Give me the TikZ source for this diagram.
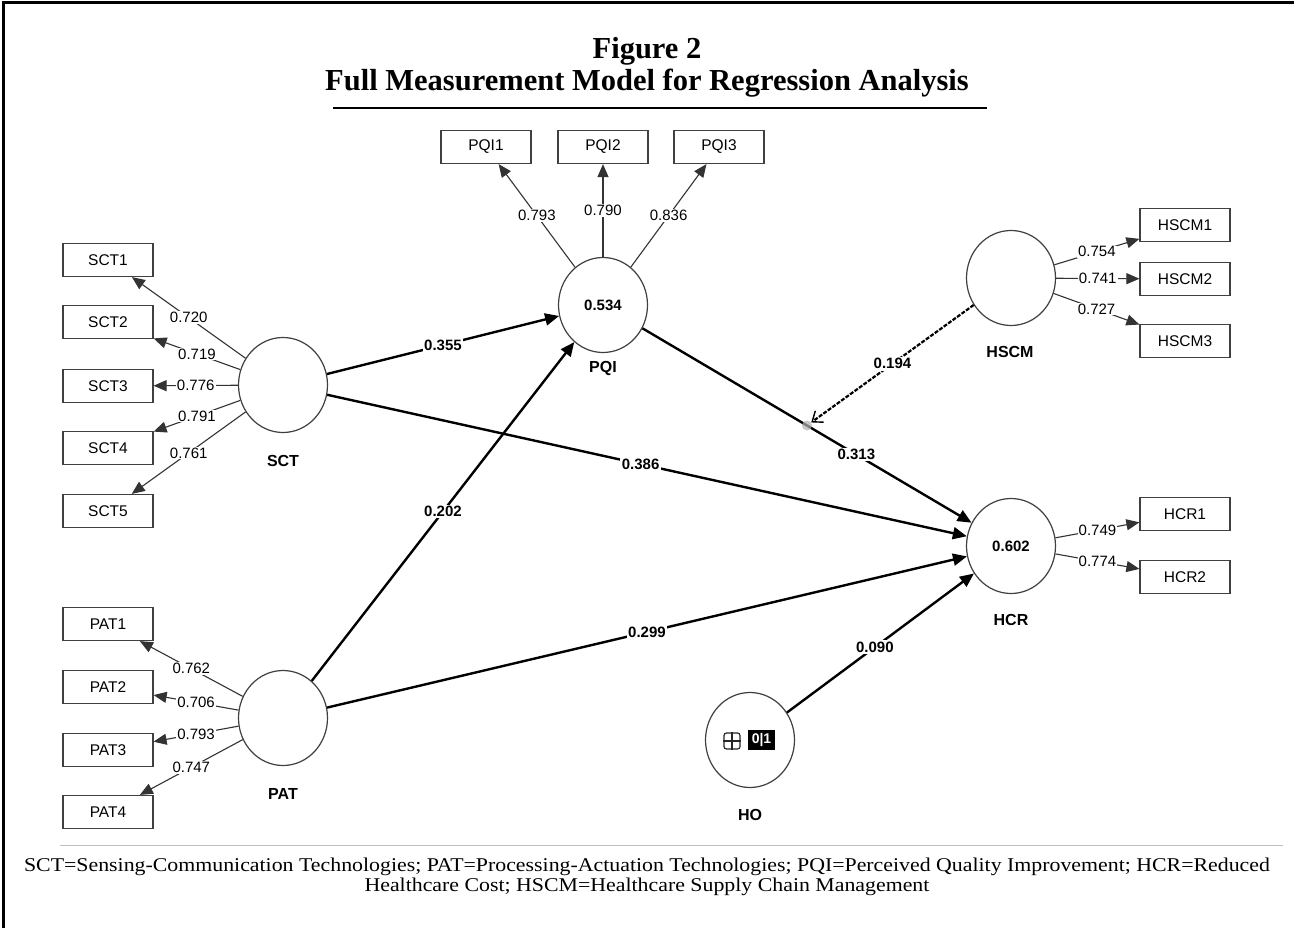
\documentclass[tikz,border=0pt]{standalone}
\usepackage{fontspec}
\setmainfont{Liberation Serif}
\newfontfamily\dsans{Liberation Sans}
\newfontfamily\captfont[FakeStretch=1.12]{Liberation Serif}
\usetikzlibrary{shapes.geometric,arrows.meta,calc}
\begin{document}
\begin{tikzpicture}[x=1pt,y=-1pt,
 latent/.style={ellipse,draw=black!75,line width=1.2pt,minimum width=89pt,minimum height=95pt,inner sep=0pt,fill=white,font=\dsans\fontsize{15}{15}\selectfont\bfseries},
 indic/.style={rectangle,draw=black!75,line width=1.2pt,minimum width=90pt,minimum height=33pt,inner sep=0pt,fill=white,font=\dsans\fontsize{15.5}{15.5}\selectfont},
 lvname/.style={font=\dsans\fontsize{16}{16}\selectfont\bfseries},
 meas/.style={draw=black!80,line width=1.1pt,-{Triangle[length=13pt,width=11pt]}},
 struct/.style={draw=black,line width=2.4pt,-{Triangle[length=14pt,width=12pt]}},
 moder/.style={draw=black,line width=2.2pt,dash pattern=on 4pt off 1.5pt,-{Straight Barb[length=9pt,width=14pt,line width=1.4pt]}},
 ldg/.style={fill=white,inner sep=1pt,font=\dsans\fontsize{15}{15}\selectfont},
 coef/.style={fill=white,inner sep=1.5pt,font=\dsans\fontsize{15}{15}\selectfont\bfseries},
 ttl/.style={font=\bfseries\fontsize{30.5}{30.5}\selectfont},
 capt/.style={font=\captfont\fontsize{19.5}{19.5}\selectfont,anchor=base,inner sep=0pt},
]
\useasboundingbox (0,0) rectangle (1294,928);
\fill[white] (0,0) rectangle (1294,928);
% frame
\draw[line width=3pt] (3,930) -- (3,3) -- (1296,3);
% title
\node[ttl] (T1) at (647,51) {Figure 2};
\node[ttl] (T2) at (647,83) {Full Measurement Model for Regression Analysis};
\draw[line width=2.5pt] (333,108) -- (987,108);

% latent variables
\node[latent] (SCT) at (283,385) {};
\node[latent] (PAT) at (283,718) {};
\node[latent] (PQI) at (603,305) {0.534};
\node[latent] (HSCM) at (1011,278) {};
\node[latent] (HCR) at (1011,546) {0.602};
\node[latent] (HO) at (750,740) {};
\node[lvname] (SCTl) at (283,461) {SCT};
\node[lvname] (PATl) at (283,794) {PAT};
\node[lvname] (PQIl) at (603,368) {PQI};
\node[lvname] (HSCMl) at (1010,352) {HSCM};
\node[lvname] (HCRl) at (1011,620) {HCR};
\node[lvname] (HOl) at (750,815) {HO};

% HO interior
\node[draw=black!85,rounded corners=2.5pt,minimum size=16pt,inner sep=0pt,line width=1.2pt] (HOplus) at (732,741) {};
\draw[line width=1.2pt,black!85] (HOplus.north) -- (HOplus.south) (HOplus.west) -- (HOplus.east);
\node[fill=black,text=white,minimum width=27pt,minimum height=20pt,inner sep=0pt,font=\dsans\bfseries\fontsize{14}{14}\selectfont] (HObin) at (761.5,740) {0|1};

% indicators
\node[indic] (SCT1) at (108,260) {SCT1};
\node[indic] (SCT2) at (108,322) {SCT2};
\node[indic] (SCT3) at (108,386) {SCT3};
\node[indic] (SCT4) at (108,448) {SCT4};
\node[indic] (SCT5) at (108,511) {SCT5};
\node[indic] (PAT1) at (108,624) {PAT1};
\node[indic] (PAT2) at (108,687) {PAT2};
\node[indic] (PAT3) at (108,750) {PAT3};
\node[indic] (PAT4) at (108,812) {PAT4};
\node[indic] (PQI1) at (486,147) {PQI1};
\node[indic] (PQI2) at (603,147) {PQI2};
\node[indic] (PQI3) at (719,147) {PQI3};
\node[indic] (HSCM1) at (1185,225) {HSCM1};
\node[indic] (HSCM2) at (1185,279) {HSCM2};
\node[indic] (HSCM3) at (1185,341) {HSCM3};
\node[indic] (HCR1) at (1185,514) {HCR1};
\node[indic] (HCR2) at (1185,577) {HCR2};

% outer loadings
\draw[meas] (SCT) -- node[ldg]{0.720} (SCT1);
\draw[meas] (SCT) -- node[ldg]{0.719} (SCT2);
\draw[meas] (SCT) -- node[ldg]{0.776} (SCT3);
\draw[meas] (SCT) -- node[ldg]{0.791} (SCT4);
\draw[meas] (SCT) -- node[ldg]{0.761} (SCT5);
\draw[meas] (PAT) -- node[ldg]{0.762} (PAT1);
\draw[meas] (PAT) -- node[ldg]{0.706} (PAT2);
\draw[meas] (PAT) -- node[ldg]{0.793} (PAT3);
\draw[meas] (PAT) -- node[ldg]{0.747} (PAT4);
\draw[meas] (PQI) -- node[ldg]{0.793} (PQI1);
\draw[meas] (PQI) -- node[ldg]{0.790} (PQI2);
\draw[meas] (PQI) -- node[ldg]{0.836} (PQI3);
\draw[meas] (HSCM) -- node[ldg]{0.754} (HSCM1);
\draw[meas] (HSCM) -- node[ldg]{0.741} (HSCM2);
\draw[meas] (HSCM) -- node[ldg]{0.727} (HSCM3);
\draw[meas] (HCR) -- node[ldg]{0.749} (HCR1);
\draw[meas] (HCR) -- node[ldg]{0.774} (HCR2);

% structural paths
\draw[struct] (SCT) -- node[coef]{0.355} (PQI);
\draw[struct] (SCT) -- node[coef,pos=0.49]{0.386} (HCR);
\draw[struct] (PAT) -- node[coef]{0.202} (PQI);
\draw[struct] (PAT) -- node[coef]{0.299} (HCR);
\draw[struct] (PQI) -- node[coef,pos=0.65]{0.313} (HCR);
\draw[struct] (HO) -- node[coef,pos=0.47]{0.090} (HCR);

% moderating effect
\node[circle,fill=black!30,opacity=0.7,minimum size=10pt,inner sep=0pt] (M) at ($(PQI)!0.5!(HCR)$) {};
\draw[moder] (HSCM) -- node[coef]{0.194} (M);

% caption
\draw[black!25,line width=1pt] (60,845) -- (1283,845);
\node[capt] (C1) at (647,871) {SCT=Sensing-Communication Technologies; PAT=Processing-Actuation Technologies; PQI=Perceived Quality Improvement; HCR=Reduced};
\node[capt] (C2) at (647,891) {Healthcare Cost; HSCM=Healthcare Supply Chain Management};
\end{tikzpicture}
\end{document}
